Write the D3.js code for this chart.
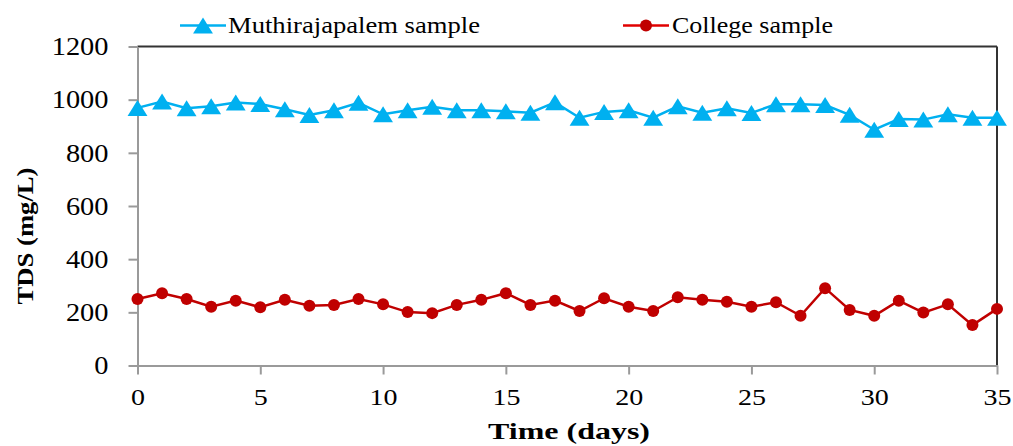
<!DOCTYPE html>
<html>
<head>
<meta charset="utf-8">
<script src="https://cdn.jsdelivr.net/npm/d3@7"></script>
<style>
  body { margin: 0; background: #fff; }
  svg text { font-family: "Times New Roman", "Liberation Serif", Tinos, serif; fill: #000; }
</style>
</head>
<body>
<div class="line-chart"></div>
<script>
var days = [0, 1, 2, 3, 4, 5, 6, 7, 8, 9, 10, 11, 12, 13, 14, 15, 16, 17,
            18, 19, 20, 21, 22, 23, 24, 25, 26, 27, 28, 29, 30, 31, 32, 33, 34, 35];
var muthirajapalem = [969, 993, 968, 975, 989, 984, 964, 942, 960, 988, 945, 960,
                      973, 960, 960, 956, 951, 990, 932, 954, 960, 932, 975, 951,
                      968, 950, 983, 983, 980, 943, 887, 927, 925, 945, 932, 932];
var college = [250, 272, 250, 221, 244, 219, 247, 225, 228, 250, 230, 201,
               197, 228, 247, 272, 228, 244, 205, 253, 221, 205, 257, 247,
               240, 221, 238, 187, 291, 209, 187, 244, 199, 230, 152, 213];
var xTicks = [0, 5, 10, 15, 20, 25, 30, 35];
var yTicks = [0, 200, 400, 600, 800, 1000, 1200];
var seriesNames = ["Muthirajapalem sample", "College sample"];

var w = 1013;
var h = 446;
var plotLeft = 137.5, plotRight = 997, plotTop = 46.5, plotBottom = 365.5;

var blue = "#00b0f0";
var red = "#c00000";

var x = d3.scaleLinear().domain([0, 35]).range([plotLeft, plotRight]);
var y = d3.scaleLinear().domain([0, 1200]).range([plotBottom, plotTop]);

var svg = d3.select(".line-chart")
            .append("svg")
            .attr("width", w)
            .attr("height", h);

// top and right frame lines
svg.append("line")
   .attr("x1", plotLeft).attr("x2", plotRight)
   .attr("y1", plotTop).attr("y2", plotTop)
   .attr("stroke", "#333").attr("stroke-width", 2);
svg.append("line")
   .attr("x1", plotRight).attr("x2", plotRight)
   .attr("y1", plotTop).attr("y2", plotBottom)
   .attr("stroke", "#333").attr("stroke-width", 2);

// axes
var xAxis = svg.append("g")
   .attr("transform", "translate(0," + plotBottom + ")")
   .call(d3.axisBottom(x).tickValues(xTicks).tickFormat(d3.format("d"))
           .tickSize(9).tickPadding(14).tickSizeOuter(0));
var yAxis = svg.append("g")
   .attr("transform", "translate(" + plotLeft + ",0)")
   .call(d3.axisLeft(y).tickValues(yTicks).tickFormat(d3.format("d"))
           .tickSize(9).tickPadding(20).tickSizeOuter(0));

[xAxis, yAxis].forEach(function(g) {
  g.attr("font-family", null);
  g.select(".domain").attr("stroke", "#9a9a9a").attr("stroke-width", 2);
  g.selectAll(".tick line").attr("stroke", "#9a9a9a").attr("stroke-width", 2);
});

xAxis.selectAll(".tick text")
     .attr("font-size", 23)
     .attr("dy", "0.72em")
     .attr("lengthAdjust", "spacingAndGlyphs")
     .attr("textLength", function(d) { return String(d).length * 14; });
yAxis.selectAll(".tick text")
     .attr("font-size", 25)
     .attr("dy", "0.33em")
     .attr("lengthAdjust", "spacingAndGlyphs")
     .attr("textLength", function(d) { return String(d).length * 14.2; });

// axis titles
svg.append("text")
   .attr("x", 569).attr("y", 439)
   .attr("text-anchor", "middle")
   .attr("font-size", 24).attr("font-weight", "bold")
   .attr("lengthAdjust", "spacingAndGlyphs").attr("textLength", 162)
   .text("Time (days)");
svg.append("text")
   .attr("transform", "translate(33,236) rotate(-90)")
   .attr("text-anchor", "middle")
   .attr("font-size", 24).attr("font-weight", "bold")
   .attr("lengthAdjust", "spacingAndGlyphs").attr("textLength", 137)
   .text("TDS (mg/L)");

// triangle centred on its bounding box
function triangle(s) {
  var hw = s * 0.62, hh = s / 2;
  return "M0," + (-hh) + "L" + hw + "," + hh + "L" + (-hw) + "," + hh + "Z";
}

var line = d3.line()
             .x(function(d, i) { return x(days[i]); })
             .y(function(d) { return y(d); });

// Muthirajapalem series
svg.append("path")
   .attr("d", line(muthirajapalem))
   .attr("fill", "none")
   .attr("stroke", blue)
   .attr("stroke-width", 2.5);
svg.selectAll("path.tri")
   .data(muthirajapalem)
   .enter()
   .append("path")
   .attr("class", "tri")
   .attr("transform", function(d, i) { return "translate(" + x(days[i]) + "," + y(d) + ")"; })
   .attr("d", triangle(16))
   .attr("fill", blue);

// College series
svg.append("path")
   .attr("d", line(college))
   .attr("fill", "none")
   .attr("stroke", red)
   .attr("stroke-width", 2.5);
svg.selectAll("circle.dot")
   .data(college)
   .enter()
   .append("circle")
   .attr("class", "dot")
   .attr("cx", function(d, i) { return x(days[i]); })
   .attr("cy", function(d) { return y(d); })
   .attr("r", 6)
   .attr("fill", red);

// legend
var legend = svg.append("g");
legend.append("line")
      .attr("x1", 180).attr("x2", 226).attr("y1", 25.5).attr("y2", 25.5)
      .attr("stroke", blue).attr("stroke-width", 2.5);
legend.append("path")
      .attr("transform", "translate(203,25.5)")
      .attr("d", triangle(16))
      .attr("fill", blue);
legend.append("text")
      .attr("x", 228).attr("y", 33)
      .attr("font-size", 24)
      .attr("lengthAdjust", "spacingAndGlyphs").attr("textLength", 252)
      .text(seriesNames[0]);

legend.append("line")
      .attr("x1", 623).attr("x2", 669).attr("y1", 25.5).attr("y2", 25.5)
      .attr("stroke", "#e00000").attr("stroke-width", 2.5);
legend.append("circle")
      .attr("cx", 646).attr("cy", 25.5).attr("r", 6)
      .attr("fill", red);
legend.append("text")
      .attr("x", 672).attr("y", 33)
      .attr("font-size", 24)
      .attr("lengthAdjust", "spacingAndGlyphs").attr("textLength", 161)
      .text(seriesNames[1]);
</script>
</body>
</html>
